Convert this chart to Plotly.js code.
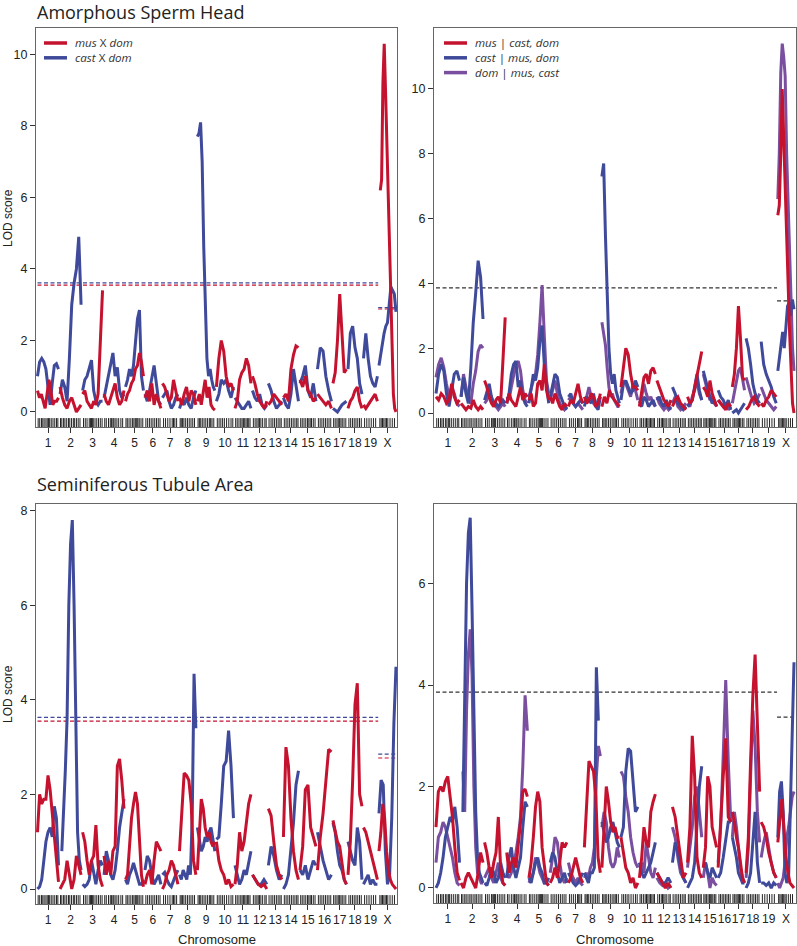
<!DOCTYPE html>
<html><head><meta charset="utf-8">
<script src="https://cdn.plot.ly/plotly-3.0.1.min.js"></script>
<style>html,body{margin:0;padding:0;background:#fff}#chart{width:797px;height:946px}</style>
</head><body><div id="chart"></div>
<script>
const chromosomes = ['1','2','3','4','5','6','7','8','9','10','11','12','13','14','15','16','17','18','19','X'];
const chrLenLeft  = [95,95,90,90,81,72,70,74,79,77,72,65,61,68,72,63,61,63,63,77];
const chrLenRight = [106,99,93,93,89,75,65,72,79,76,72,63,61,64,60,57,55,61,68,73];
const chrGap = 7;
const markerPos = [
 [3,10,18,24,30,38,44,50,55,62,70,78,86,92],
 [2,8,16,22,30,38,44,52,60,66,74,82,90],
 [4,12,20,30,36,40,44,48,56,64,72,80,88],
 [3,10,20,28,34,40,44,50,58,66,76,84],
 [2,8,16,24,32,38,44,48,52,56,62,70,78],
 [4,12,20,28,36,44,52,60,68],
 [5,14,24,34,44,50,56,64],
 [3,8,14,20,28,36,44,52,60,68],
 [3,9,15,22,30,38,46,54,60,66,74],
 [4,12,20,28,36,46,56,66,74],
 [3,10,18,26,32,38,44,50,56,62,68],
 [4,12,20,26,32,38,46,56,62],
 [3,12,20,28,36,44,52,58],
 [4,12,20,28,36,44,52,60,66],
 [3,10,18,26,34,40,46,52,60,68],
 [4,12,20,28,36,44,52,60],
 [3,10,18,24,30,36,42,50,58],
 [4,12,20,28,36,44,52,60],
 [5,15,25,35,45,55],
 [4,10,16,22,28,34,40,50,60,70]
];

// Amorphous Sperm Head, cross-specific scans
const spermMusDom = [
 [0.6,0.4,0.5,0.3,0.1,0.5,0.9,0.6,0.2,0.3,0.3,0.4],
 [0.7,0.4,0.2,0.1,0.3,0.4,0.2,0.0,0.1,0.2],
 [0.5,0.6,0.3,0.2,0.1,0.3,0.2,0.5,1.8,3.4],
 [0.5,0.3,0.2,0.4,0.6,0.8,0.4,0.2,0.3,0.6],
 [0.3,0.5,0.6,0.8,0.9,1.2,1.3,1.65,1.4,1.0],
 [0.4,0.6,0.3,0.8,0.2,0.5,0.3,0.1],
 [0.8,0.7,0.5,0.3,0.4,0.9,0.6,0.3],
 [0.4,0.2,0.5,0.7,0.3,0.6,0.5,0.2],
 [0.3,0.5,0.2,0.6,0.9,0.4,0.7,0.2,0.1,0.05],
 [0.7,1.5,2.0,1.7,1.0,0.7,0.8,0.6],
 [0.1,0.3,0.9,1.1,1.2,1.5,1.3,0.8],
 [1.0,0.8,0.5,0.3,0.2,0.1,0.3],
 [0.2,0.3,0.5,0.4,0.3,0.2],
 [0.4,0.5,0.3,1.2,1.6,1.85,1.8],
 [0.9,0.7,1.0,0.6,0.5,0.3,0.4],
 [0.5,0.4,0.3,0.2,0.3,0.1],
 [0.8,1.1,2.0,3.3,2.2,1.1,1.2],
 [0.1,0.3,0.4,0.6,0.7,0.3,0.1],
 [0.2,0.1,0.2,0.3,0.4,0.5,0.3],
 [null,6.2,6.5,9.2,10.3,9.0,7.5,6.0,4.5,3.0,1.5,0.5,0.1,0.0]
];
const spermCastDom = [
 [1.0,1.4,1.5,1.4,1.2,0.6,0.2,0.8,1.3,1.35,1.2],
 [0.5,0.9,0.7,0.3,1.5,3.0,3.6,4.0,4.9,3.0],
 [0.6,0.9,1.0,1.2,1.45,0.6,0.3,0.2,0.3,0.3],
 [0.4,0.7,1.1,1.3,1.65,1.0,1.25,0.6,0.4,0.5],
 [0.7,0.9,1.2,1.0,1.3,2.0,2.6,2.85,1.0,0.6],
 [0.5,0.3,0.6,0.9,1.3,0.8,0.3,0.2],
 [0.4,0.5,0.6,0.3,0.1,0.2,0.4,0.5],
 [0.1,0.3,0.2,0.4,0.2,0.1,0.4,0.6],
 [7.7,7.8,8.1,7.0,4.6,2.8,1.5,1.0,1.2,0.9,0.7,0.6],
 [0.3,0.5,0.9,0.8,0.9,0.6,0.4,0.7],
 [0.4,0.3,0.2,0.1,0.1,0.2,0.3,0.1],
 [0.6,0.4,0.3,0.5,0.2,0.1,0.2],
 [0.8,0.6,0.3,0.1,0.2,0.3],
 [0.4,0.2,0.1,0.5,1.2,0.8,0.3],
 [0.8,1.0,1.3,0.6,0.4,0.8,0.3],
 [1.2,1.8,1.7,1.0,0.6,0.3],
 [0.1,0.05,0.0,0.1,0.2,0.25,0.3],
 [1.2,2.2,2.4,1.8,1.5,0.8,0.5],
 [1.5,2.2,1.5,1.0,0.8,0.7,1.0],
 [1.3,1.6,2.0,2.2,2.4,2.5,3.0,3.5,3.4,3.3,2.8]
];
const spermThreshAuto = [3.55, 3.61];   // mus, cast
const spermThreshX = [2.88, 2.92];

// Amorphous Sperm Head, conditional scans
const spermMusCD = [
 [0.5,0.4,0.6,0.5,0.3,0.4,0.9,0.5,0.3,0.4],
 [0.3,0.2,0.1,0.2,0.15,0.4,0.2,0.1,0.2,0.1],
 [1.0,0.8,0.5,0.3,0.2,0.4,0.5,0.3,1.6,2.95],
 [0.3,0.6,0.4,0.3,0.2,0.5,0.8,0.4,0.6,0.5],
 [0.4,0.6,0.2,0.3,0.9,1.0,0.7,1.5,0.7,0.4],
 [0.5,0.3,0.6,0.4,0.2,0.1,0.3,0.2],
 [0.2,0.4,0.3,0.6,0.9,0.5,0.3],
 [0.5,0.3,0.4,0.6,0.5,0.2,0.3,0.6],
 [0.2,0.5,0.3,0.7,0.5,0.4,0.3,0.2],
 [0.8,1.5,2.0,1.8,1.2,0.8,0.8,0.7],
 [0.2,0.6,1.1,1.2,0.9,1.3,1.4,1.2],
 [1.0,0.8,0.6,0.4,0.3,0.2,0.4],
 [0.2,0.4,0.5,0.3,0.2,0.1],
 [0.5,0.3,0.4,0.8,1.2,1.6,1.9],
 [0.8,0.7,0.5,1.0,0.6,0.4,0.2],
 [0.4,0.3,0.2,0.1,0.3,0.2],
 [0.8,1.2,2.0,3.3,2.3,1.1,1.0],
 [0.1,0.2,0.4,0.5,0.3,0.2],
 [0.3,0.2,0.4,0.5,0.7,0.6,0.5],
 [6.1,6.4,8.0,10.0,8.5,7.2,5.8,4.0,2.5,1.2,0.3,0.0]
];
const spermCastMD = [
 [0.6,1.2,1.5,1.3,0.6,0.2,0.7,1.2,1.3,1.0],
 [0.5,1.1,0.6,0.3,1.4,2.8,3.7,4.7,4.2,2.9],
 [0.4,0.7,0.9,0.5,0.2,0.3,0.2,0.3,0.4,0.3],
 [0.3,0.6,1.2,1.5,1.6,0.8,1.0,0.5,0.3,0.2],
 [0.3,0.8,1.2,1.0,1.4,2.2,2.7,1.5,0.8,0.3],
 [0.5,0.9,1.2,1.1,0.6,0.4,0.2,0.1],
 [0.5,0.6,0.3,0.2,0.3,0.4,0.3],
 [0.2,0.5,0.4,0.3,0.6,0.2,0.1,0.5],
 [7.3,7.7,5.5,3.8,2.0,1.2,0.9,1.2,0.7,0.5,0.3],
 [0.4,0.9,1.0,0.8,0.6,0.7,1.0,0.8],
 [0.3,0.2,0.5,0.4,0.2,0.3,0.4,0.2],
 [0.4,0.5,0.3,0.2,0.4,0.2,0.1],
 [0.8,0.6,0.3,0.2,0.1,0.2],
 [0.2,0.3,0.4,0.8,1.2,0.7,0.4],
 [1.3,1.0,0.7,0.5,0.3,0.4,0.2],
 [0.7,0.5,0.4,0.2,0.4,0.1],
 [0.0,0.05,0.1,0.0,0.1,0.2,0.3],
 [2.3,2.0,1.5,0.9,0.6,0.4,0.3],
 [2.2,1.5,1.2,1.0,0.8,0.5,0.3],
 [1.3,1.7,2.1,2.5,2.0,2.8,3.3,3.4,3.0,3.5,3.2]
];
const spermDomMC = [
 [1.1,1.5,1.7,1.4,0.9,0.5,0.8,0.6,0.3,0.2],
 [0.5,1.2,0.8,0.4,0.3,0.9,1.3,1.9,2.1,2.0],
 [0.3,0.4,0.6,0.5,0.3,0.2,0.1,0.2,0.3,0.2],
 [0.5,0.4,0.8,1.2,1.5,1.6,1.3,0.7,0.4,0.3],
 [0.5,0.8,1.0,1.2,1.8,2.8,3.95,2.4,1.0,0.6],
 [0.4,0.7,1.0,0.6,0.3,0.2,0.1,0.2],
 [0.4,0.5,0.3,0.2,0.3,0.2,0.1],
 [0.3,0.5,0.8,0.5,0.3,0.2,0.4,0.5],
 [2.8,2.4,2.1,1.4,0.8,0.5,0.6,0.4,0.3,0.2,0.2],
 [0.6,1.0,0.9,0.7,0.5,0.9,0.7,0.4],
 [0.3,0.5,0.9,0.6,0.4,0.5,0.3,0.2],
 [0.5,0.3,0.2,0.1,0.2,0.1,0.2],
 [0.3,0.5,0.2,0.1,0.2,0.3],
 [0.3,0.2,0.5,0.7,1.0,0.6,0.4],
 [1.2,0.9,0.6,0.4,0.5,0.3,0.2],
 [0.4,0.3,0.2,0.3,0.1,0.2],
 [0.3,0.6,0.9,1.3,1.4,1.0,0.7],
 [1.1,0.8,0.5,0.3,0.4,0.6],
 [0.8,0.6,0.4,0.3,0.2,0.1,0.2],
 [6.6,8.0,10.5,11.4,11.0,10.4,8.0,6.5,5.0,3.5,2.0,1.3]
];
const spermThreshAutoCond = 3.86;
const spermThreshXCond = 3.46;

// Seminiferous Tubule Area, cross-specific scans
const tubuleMusDom = [
 [1.2,2.0,1.8,1.9,1.9,2.4,2.1,1.6,1.0,0.5,0.15],
 [0.0,0.1,0.2,0.6,0.3,0.0,0.2,0.7,0.5,0.3],
 [1.2,1.0,0.6,0.3,0.6,0.7,1.35,0.5,0.2,0.05],
 [0.7,0.3,0.6,0.3,0.8,0.9,2.6,2.75,2.3,1.7],
 [0.2,0.3,0.9,1.5,1.8,2.05,1.8,1.0,0.3,0.05],
 [0.1,0.3,0.4,0.1,0.6,1.0,0.9,0.8],
 [0.0,0.1,0.3,0.4,0.6,0.5,0.3,0.1],
 [0.8,1.6,2.45,2.4,2.3,1.8,0.6,0.3],
 [0.4,1.1,1.9,1.7,1.3,1.1,1.2,1.0,0.9,1.0],
 [1.0,0.6,0.4,0.3,0.1,0.2,0.05,0.1],
 [0.1,0.5,1.2,0.8,1.0,1.4,1.8,2.0],
 [0.3,0.2,0.1,0.05,0.1,0.0],
 [1.7,1.55,1.0,0.5,0.3,0.2],
 [1.1,3.0,2.6,1.5,0.8,0.4,0.2],
 [0.4,0.9,2.1,2.2,1.3,1.1,0.9],
 [0.4,1.1,1.6,2.2,2.95,2.9],
 [1.45,1.2,1.0,0.9,0.5,0.2,0.1],
 [0.3,1.0,2.3,3.9,4.35,2.0,1.75],
 [1.3,1.2,1.0,0.8,0.6,0.4,0.2],
 [0.8,1.2,1.8,1.5,0.8,0.4,0.2,0.1,0.05,0.0]
];
const tubuleCastDom = [
 [0.0,0.05,0.2,0.6,1.0,1.2,1.3,1.1,1.75,1.5,0.5],
 [null,0.8,1.5,2.5,3.6,6.0,7.3,7.8,6.0,3.0,1.2,0.6,0.4],
 [0.1,0.05,0.1,0.2,0.6,0.3,0.1,0.4,0.6,0.5],
 [0.3,0.8,0.6,0.3,0.2,0.4,0.8,1.3,1.6,1.9],
 [0.2,0.1,0.3,0.4,0.55,0.4,0.3,0.1,0.1,0.2],
 [0.4,0.7,0.6,0.3,0.1,0.2,0.3,0.1],
 [0.3,0.35,0.2,0.1,0.05,0.2,0.3,0.4],
 [0.3,0.2,0.4,0.3,0.2,0.5,0.3,1.5,4.55,3.4],
 [1.3,1.0,0.8,0.9,1.1,1.0,1.2,1.3,1.0,0.8],
 [1.05,1.1,1.8,2.6,2.7,3.35,2.6,1.5],
 [0.5,0.3,0.1,0.2,0.4,0.3,0.6,0.8],
 [0.3,0.2,0.1,0.1,0.2,0.1],
 [0.5,0.9,0.7,0.4,0.2,0.3],
 [0.0,0.1,0.3,0.8,1.4,2.2,2.5],
 [0.4,0.3,0.5,0.2,0.4,0.6,0.5],
 [1.2,0.9,0.6,0.4,0.2,0.3],
 [1.4,1.2,0.8,0.5,0.4,0.2,0.1],
 [1.0,0.8,0.6,0.5,1.3,1.0,0.2],
 [0.1,0.2,0.3,0.1,0.2,0.1,0.1],
 [1.6,2.3,2.2,0.8,0.1,0.3,1.5,3.5,4.7]
];
const tubuleThreshAuto = [3.55, 3.63];
const tubuleThreshX = [2.77, 2.85];

// Seminiferous Tubule Area, conditional scans
const tubuleMusCD = [
 [1.2,1.9,2.0,1.9,2.1,2.2,1.8,1.4,0.8,0.3,0.15],
 [0.1,0.0,0.2,0.3,0.2,0.1,0.0,0.3,0.7,0.5],
 [0.9,0.7,0.4,0.2,0.5,0.7,1.4,0.4,0.1,0.05],
 [0.7,0.3,0.5,0.6,0.4,0.8,1.3,1.9,1.95,1.8],
 [0.2,0.5,1.0,1.6,1.9,1.7,0.8,0.4,0.1,0.05],
 [0.1,0.2,0.4,0.2,0.5,0.9,0.8,0.9],
 [0.1,0.2,0.4,0.6,0.4,0.2,0.1],
 [0.8,1.6,2.5,2.4,2.3,1.8,0.6,0.3],
 [0.4,1.2,2.0,1.7,1.3,1.1,1.2,1.0,1.0],
 [1.0,0.7,0.4,0.3,0.1,0.2,0.0,0.1],
 [0.2,0.6,1.2,0.9,0.8,1.5,1.7,1.85],
 [0.3,0.2,0.1,0.0,0.1,0.0],
 [1.6,1.4,1.0,0.6,0.2,0.3],
 [0.5,1.2,3.0,2.2,0.6,0.3,0.2],
 [0.4,0.8,2.2,2.0,1.2,1.0,0.8],
 [0.4,1.4,2.2,2.95,1.4,1.3],
 [1.5,1.3,1.0,0.8,0.5,0.2,0.1],
 [0.3,1.0,2.5,3.8,4.6,3.0,1.9],
 [1.3,1.2,1.0,0.7,0.5,0.3,0.2],
 [0.9,1.3,1.75,1.2,0.6,0.3,0.1,0.05,0.0]
];
const tubuleCastMD = [
 [0.0,0.1,0.3,0.6,1.0,1.2,1.4,1.3,1.6,1.2,0.5],
 [null,1.5,3.8,6.0,7.0,7.3,5.5,3.3,1.5,0.6,0.3,0.2,0.1],
 [0.1,0.05,0.2,0.4,0.3,0.1,0.2,0.5,0.3,0.2],
 [0.2,0.6,0.8,0.4,0.2,0.4,0.6,1.2,1.7,1.6],
 [0.2,0.1,0.3,0.5,0.6,0.4,0.3,0.1,0.1,0.2],
 [0.5,0.7,0.6,0.3,0.1,0.2,0.3,0.1],
 [0.3,0.2,0.1,0.05,0.1,0.2,0.3],
 [0.3,0.2,0.1,0.3,0.3,0.4,4.35,3.3,null],
 [1.3,1.1,0.9,1.0,1.2,1.3,1.1,0.9,0.8],
 [1.0,1.2,2.3,2.75,2.7,2.0,1.5,1.6],
 [0.5,0.3,0.2,0.3,0.4,0.5,0.7,0.9],
 [0.3,0.2,0.1,0.1,0.2,0.1],
 [0.5,0.9,0.7,0.4,0.2,0.1],
 [0.0,0.1,0.2,0.5,1.2,2.0,2.4],
 [0.4,0.5,0.3,0.2,0.4,0.3,0.2],
 [0.2,0.3,0.6,1.0,1.3,1.3],
 [1.0,0.8,0.6,0.3,0.2,0.1,0.1],
 [0.0,0.1,0.3,1.0,1.5,0.5,0.1],
 [0.1,0.1,0.05,0.1,0.0,0.1,0.05],
 [1.0,1.9,2.1,1.5,0.3,0.1,0.2,1.5,3.0,4.45]
];
const tubuleDomMC = [
 [0.5,1.0,1.1,1.3,1.2,1.0,0.8,0.6,0.3,0.1,0.05],
 [null,2.3,1.5,3.5,4.6,5.1,4.2,2.0,0.8,0.3,0.2,0.1,0.1],
 [0.2,0.3,0.4,0.2,0.1,0.3,0.5,0.2,0.1,0.05],
 [0.3,0.2,0.3,0.5,0.7,1.0,1.4,2.4,3.8,3.1],
 [0.1,0.2,0.3,0.6,0.5,0.3,0.2,0.1,0.1,0.05],
 [0.3,0.6,1.0,0.9,0.5,0.2,0.1,0.2],
 [0.5,0.3,0.2,0.1,0.2,0.1,0.05],
 [0.2,0.3,0.2,0.4,0.5,0.8,2.2,2.8,2.6],
 [1.2,1.5,1.3,0.8,0.5,0.4,0.5,0.8,0.6],
 [2.3,2.2,1.8,1.5,1.0,0.7,0.5,0.4],
 [0.4,0.5,0.3,0.9,0.6,0.3,0.2,0.4],
 [0.2,0.1,0.05,0.1,0.0,0.05],
 [1.2,1.0,0.6,0.3,0.2,0.1],
 [0.4,0.8,1.2,1.8,2.0,1.5,1.0],
 [0.2,0.5,0.3,0.0,0.2,0.1,0.05],
 [0.5,1.2,2.6,4.1,2.5,1.3],
 [1.0,1.5,1.2,0.8,0.4,0.2,0.1],
 [0.2,0.8,2.2,3.5,2.8,1.5,0.9],
 [0.6,0.9,1.1,0.8,0.5,0.3,0.2],
 [0.1,0.0,0.1,0.2,0.5,1.0,1.2,1.5,1.8,1.9]
];
const tubuleThreshAutoCond = 3.86;
const tubuleThreshXCond = 3.37;

const panelTitles = ['Amorphous Sperm Head', 'Seminiferous Tubule Area'];
const legendLeft = ['<i>mus</i> X <i>dom</i>', '<i>cast</i> X <i>dom</i>'];
const legendRight = ['<i>mus</i> | <i>cast, dom</i>', '<i>cast</i> | <i>mus, dom</i>', '<i>dom</i> | <i>mus, cast</i>'];

const RED = '#c5122f', BLUE = '#3f4a9b', PURPLE = '#7b4f9f', THR = '#333333';
const W = 797, H = 946;
const FONT = 'Liberation Sans, Arial, sans-serif';

function offsets(lens) { const o = []; let c = 0; lens.forEach(L => { o.push(c); c += L + chrGap; }); return o; }
function curve(vals, lens) {
  const off = offsets(lens), x = [], y = [];
  vals.forEach((v, c) => {
    const n = v.length;
    v.forEach((val, i) => { x.push(off[c] + lens[c] * i / (n - 1)); y.push(val); });
    x.push(off[c] + lens[c] + chrGap / 2); y.push(null);
  });
  return { x, y };
}

const panels = [
  { ax: '', px: [36, 397], py: [28, 427], yr: [-0.42, 10.74], ytv: [0,2,4,6,8,10], lens: chrLenLeft, xr: [-6.8, 1625.5],
    series: [[spermCastDom, BLUE], [spermMusDom, RED]],
    thr: [[spermThreshAuto[1], spermThreshX[1], BLUE], [spermThreshAuto[0], spermThreshX[0], RED]], ylab: true, xlab: false },
  { ax: '2', px: [434, 796], py: [28, 427], yr: [-0.432, 11.88], ytv: [0,2,4,6,8,10], lens: chrLenRight, xr: [-9, 1623],
    series: [[spermDomMC, PURPLE], [spermCastMD, BLUE], [spermMusCD, RED]],
    thr: [[spermThreshAutoCond, spermThreshXCond, THR]], ylab: false, xlab: false },
  { ax: '3', px: [36, 397], py: [504, 904], yr: [-0.317, 8.14], ytv: [0,2,4,6,8], lens: chrLenLeft, xr: [-6.8, 1625.5],
    series: [[tubuleCastDom, BLUE], [tubuleMusDom, RED]],
    thr: [[tubuleThreshAuto[1], tubuleThreshX[1], BLUE], [tubuleThreshAuto[0], tubuleThreshX[0], RED]], ylab: true, xlab: true },
  { ax: '4', px: [434, 796], py: [504, 903], yr: [-0.296, 7.57], ytv: [0,2,4,6], lens: chrLenRight, xr: [-9, 1623],
    series: [[tubuleDomMC, PURPLE], [tubuleCastMD, BLUE], [tubuleMusCD, RED]],
    thr: [[tubuleThreshAutoCond, tubuleThreshXCond, THR]], ylab: false, xlab: true }
];

const traces = [], layout = {
  width: W, height: H, margin: { l: 0, r: 0, t: 0, b: 0 }, showlegend: false,
  paper_bgcolor: '#fff', plot_bgcolor: '#fff', annotations: [], shapes: []
};

panels.forEach(p => {
  const xa = 'x' + p.ax, ya = 'y' + p.ax;
  const off = offsets(p.lens);
  const centers = off.map((o, i) => o + p.lens[i] / 2);
  layout['xaxis' + p.ax] = {
    domain: [p.px[0] / W, p.px[1] / W], anchor: ya, range: p.xr, tickmode: 'array', tickvals: centers, ticktext: chromosomes,
    tickangle: 0, ticks: 'outside', ticklen: 5, tickwidth: 1, tickcolor: '#333', showline: true, linecolor: '#666', linewidth: 1, mirror: true,
    showgrid: false, zeroline: false, tickfont: { family: FONT, size: 12, color: '#222' }, fixedrange: true
  };
  layout['yaxis' + p.ax] = {
    domain: [1 - p.py[1] / H, 1 - p.py[0] / H], anchor: xa, range: p.yr, tickmode: 'array', tickvals: p.ytv,
    ticks: 'outside', ticklen: 5, tickwidth: 1, tickcolor: '#333', showline: true, linecolor: '#666', linewidth: 1, mirror: true,
    showgrid: false, zeroline: false, tickfont: { family: FONT, size: 12.5, color: '#222' }, fixedrange: true
  };
  // marker rug
  const pxPerUnit = (p.py[1] - p.py[0]) / (p.yr[1] - p.yr[0]);
  const rugY = p.yr[0] + 4 / pxPerUnit;
  const rx = [], ry = [];
  markerPos.forEach((arr, c) => arr.forEach(m => { rx.push(off[c] + m * p.lens[c] / chrLenLeft[c]); ry.push(rugY); }));
  traces.push({ type: 'scatter', mode: 'markers', x: rx, y: ry, xaxis: xa, yaxis: ya, hoverinfo: 'skip', cliponaxis: false,
    marker: { symbol: 'line-ns-open', size: 7, color: '#222', line: { width: 1, color: '#222' } } });
  // thresholds
  const xStart = off[19] - chrGap / 2;
  p.thr.forEach(t => {
    traces.push({ type: 'scatter', mode: 'lines', x: [0, xStart], y: [t[0], t[0]], xaxis: xa, yaxis: ya, hoverinfo: 'skip',
      line: { color: t[2], width: 1.2, dash: '4px,2.5px' } });
    traces.push({ type: 'scatter', mode: 'lines', x: [xStart, p.xr[1]], y: [t[1], t[1]], xaxis: xa, yaxis: ya, hoverinfo: 'skip',
      line: { color: t[2], width: 1.2, dash: '4px,2.5px' } });
  });
  // LOD curves
  p.series.forEach(s => {
    const c = curve(s[0], p.lens);
    traces.push({ type: 'scatter', mode: 'lines', x: c.x, y: c.y, xaxis: xa, yaxis: ya, connectgaps: false, hoverinfo: 'skip',
      line: { color: s[1], width: 3, shape: 'linear' } });
  });
  if (p.ylab) {
    layout.annotations.push({ xref: 'paper', yref: 'paper', x: 8 / W, y: 1 - (p.py[0] === 28 ? 218 : 694) / H,
      text: 'LOD score', textangle: -90, showarrow: false, xanchor: 'center', yanchor: 'middle',
      font: { family: FONT, size: 12, color: '#222' } });
  }
  if (p.xlab) {
    layout.annotations.push({ xref: 'paper', yref: 'paper', x: (p.px[0] + p.px[1]) / 2 / W, y: 1 - 939 / H,
      text: 'Chromosome', showarrow: false, xanchor: 'center', yanchor: 'middle',
      font: { family: FONT, size: 13, color: '#222' } });
  }
});

// panel titles
[[panelTitles[0], 0, 2], [panelTitles[1], 473, 3]].forEach(t => {
  layout.annotations.push({ xref: 'paper', yref: 'paper', x: 35 / W, y: 1 - t[1] / H, yshift: t[2], text: t[0], showarrow: false,
    xanchor: 'left', yanchor: 'top', font: { family: 'Open Sans, Noto Sans, sans-serif', size: 18, color: '#222' } });
});

// legends: line samples + one multi-line text block
function addLegend(items, colors, x0, y0, dy) {
  items.forEach((txt, i) => {
    const y = 1 - (y0 + i * dy) / H;
    layout.shapes.push({ type: 'line', xref: 'paper', yref: 'paper', x0: x0 / W, x1: (x0 + 23) / W, y0: y, y1: y,
      line: { color: colors[i], width: 3.5 } });
  });
  layout.annotations.push({ xref: 'paper', yref: 'paper', x: (x0 + 29) / W, y: 1 - (y0 + (items.length - 1) * dy / 2) / H,
    text: items.join('<br>'), align: 'left', showarrow: false, xanchor: 'left', yanchor: 'middle',
    font: { family: 'Open Sans, Noto Sans, sans-serif', size: 11.6, color: '#333' } });
}
addLegend(legendLeft, [RED, BLUE], 44, 43, 14.8);
addLegend(legendRight, [RED, BLUE, PURPLE], 444, 43, 14.8);

Plotly.newPlot('chart', traces, layout, { staticPlot: true, displayModeBar: false });
</script>
</body></html>
